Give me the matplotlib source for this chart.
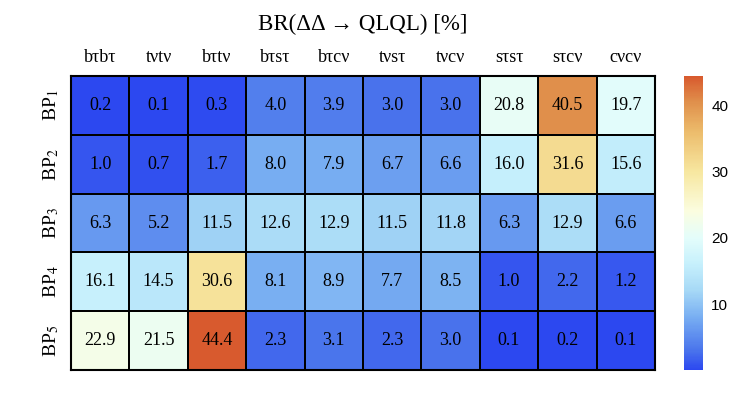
import numpy as np
import matplotlib
matplotlib.use("Agg")
import matplotlib.pyplot as plt
from matplotlib.colors import LinearSegmentedColormap

channels = ["bτbτ", "tνtν", "bτtν", "bτsτ", "bτcν", "tνsτ", "tνcν", "sτsτ", "sτcν", "cνcν"]
points = [r"BP$_1$", r"BP$_2$", r"BP$_3$", r"BP$_4$", r"BP$_5$"]

bp1 = [0.2, 0.1, 0.3, 4.0, 3.9, 3.0, 3.0, 20.8, 40.5, 19.7]
bp2 = [1.0, 0.7, 1.7, 8.0, 7.9, 6.7, 6.6, 16.0, 31.6, 15.6]
bp3 = [6.3, 5.2, 11.5, 12.6, 12.9, 11.5, 11.8, 6.3, 12.9, 6.6]
bp4 = [16.1, 14.5, 30.6, 8.1, 8.9, 7.7, 8.5, 1.0, 2.2, 1.2]
bp5 = [22.9, 21.5, 44.4, 2.3, 3.1, 2.3, 3.0, 0.1, 0.2, 0.1]

plt.rcParams['font.family'] = ['Liberation Serif', 'DejaVu Serif']
plt.rcParams['mathtext.fontset'] = 'stix'

br = np.array([bp1, bp2, bp3, bp4, bp5])
vmin, vmax = br.min(), br.max()

# rough colour stops
stops = [(0.1, "#2c48f0"), (3.0, "#4a74ec"), (8.0, "#78aef2"), (12.0, "#a6d8f6"),
         (16.0, "#c6f0fc"), (20.0, "#e4fdfb"), (24.0, "#fbfde0"), (30.0, "#f7e7a0"),
         (36.0, "#ecbc6c"), (40.5, "#e0904c"), (44.4, "#d85a2e")]
cmap = LinearSegmentedColormap.from_list(
    "br", [((v - vmin) / (vmax - vmin), c) for v, c in stops])

fig = plt.figure(figsize=(7.31, 3.97), dpi=100)
ax = fig.add_axes([71 / 731, 1 - 370 / 397, 584 / 731, 294 / 397])
cax = fig.add_axes([684 / 731, 1 - 370 / 397, 19 / 731, 294 / 397])

mesh = ax.pcolormesh(br, cmap=cmap, vmin=vmin, vmax=vmax,
                     edgecolors="black", linewidth=1.2)
ax.set_xlim(0, len(channels))
ax.set_ylim(len(points), 0)

for i in range(len(points)):
    for j in range(len(channels)):
        ax.text(j + 0.5, i + 0.5, f"{br[i, j]:.1f}", ha="center", va="center",
                fontsize=13, color="black")

ax.xaxis.tick_top()
ax.set_xticks(np.arange(len(channels)) + 0.5)
ax.set_xticklabels(channels, fontsize=13)
ax.set_yticks(np.arange(len(points)) + 0.5)
ax.set_yticklabels(points, fontsize=14, rotation=90, va="center")
ax.tick_params(length=0, pad=7)
for s in ax.spines.values():
    s.set_linewidth(1.5)

ax.set_title("BR(ΔΔ → QLQL) [%]", fontsize=16.5, pad=33)

cb = fig.colorbar(mesh, cax=cax, ticks=[10, 20, 30, 40])
cb.outline.set_visible(False)
cax.tick_params(length=0, pad=6)
for lab in cax.get_yticklabels():
    lab.set_family("Liberation Sans")
    lab.set_fontsize(11)

fig.savefig("out.png", dpi=100)
